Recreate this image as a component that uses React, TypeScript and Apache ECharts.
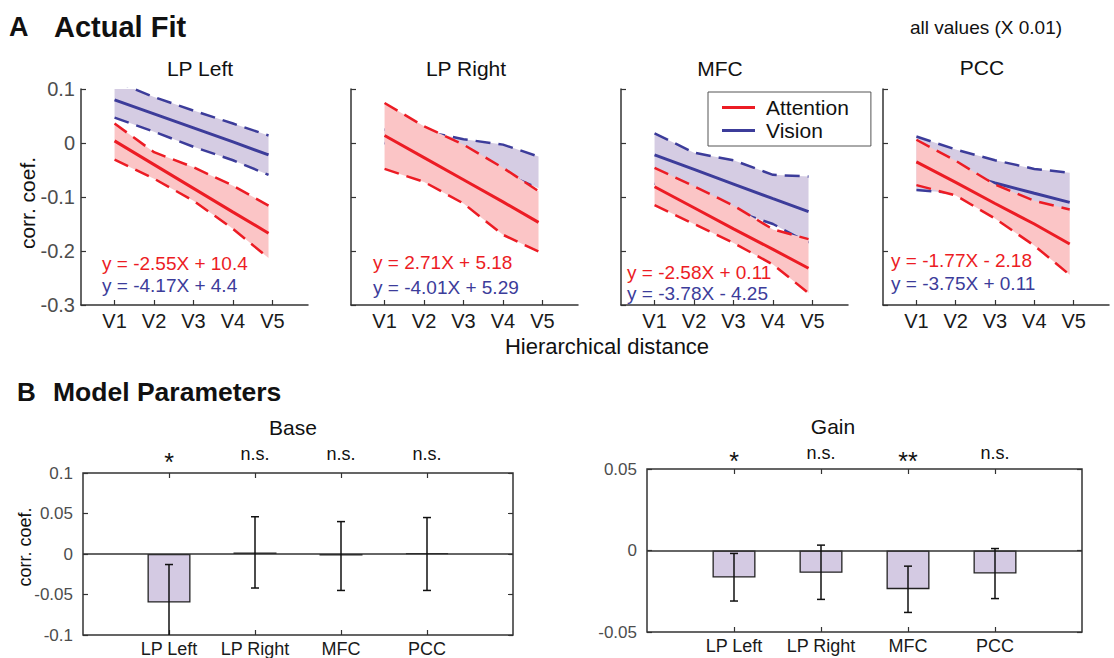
import React, { useEffect, useRef } from "react";
import * as echarts from "echarts";

// ---------- DATA ----------
const regions = ["LP Left", "LP Right", "MFC", "PCC"];
const hierLabels = ["V1", "V2", "V3", "V4", "V5"];
const hierX = [1, 2, 3, 4, 4.9];

// Panel A (corr. coef.), one row per region
const attUpper = [
  [0.036, -0.017, -0.045, -0.079, -0.116],
  [0.074, 0.031, -0.003, -0.046, -0.089],
  [-0.046, -0.08, -0.116, -0.16, -0.178],
  [0.006, -0.033, -0.077, -0.107, -0.123],
];
const attCenter = [
  [0.004, -0.04, -0.084, -0.128, -0.167],
  [0.014, -0.027, -0.068, -0.109, -0.147],
  [-0.081, -0.12, -0.159, -0.197, -0.232],
  [-0.035, -0.073, -0.112, -0.15, -0.187],
];
const attLower = [
  [-0.031, -0.066, -0.107, -0.159, -0.213],
  [-0.048, -0.072, -0.112, -0.17, -0.201],
  [-0.115, -0.15, -0.185, -0.225, -0.278],
  [-0.078, -0.097, -0.14, -0.19, -0.244],
];
const visUpper = [
  [0.115, 0.085, 0.06, 0.036, 0.014],
  [0.025, 0.022, 0.007, -0.003, -0.025],
  [0.018, -0.018, -0.032, -0.059, -0.062],
  [0.012, -0.012, -0.032, -0.048, -0.055],
];
const visCenter: (number[] | null)[] = [
  [0.08, 0.054, 0.028, 0.002, -0.022],
  null,
  [-0.022, -0.049, -0.076, -0.103, -0.127],
  [-0.035, -0.054, -0.074, -0.093, -0.11],
];
const visLower = [
  [0.047, 0.021, -0.007, -0.032, -0.059],
  [0.0, -0.02, -0.035, -0.055, -0.084],
  [-0.075, -0.1, -0.125, -0.15, -0.185],
  [-0.087, -0.093, -0.105, -0.118, -0.13],
];
const eqAtt = ["y = -2.55X + 10.4", "y = 2.71X + 5.18", "y = -2.58X + 0.11", "y = -1.77X - 2.18"];
const eqVis = ["y = -4.17X + 4.4", "y = -4.01X + 5.29", "y = -3.78X - 4.25", "y = -3.75X + 0.11"];

// Panel B
const baseMean = [-0.06, 0.002, -0.002, 0.001];
const baseErrLow = [-0.107, -0.042, -0.045, -0.045];
const baseErrHigh = [-0.013, 0.046, 0.04, 0.045];
const baseSig = ["*", "n.s.", "n.s.", "n.s."];
const gainMean = [-0.0166, -0.0137, -0.0237, -0.0141];
const gainErrLow = [-0.031, -0.03, -0.038, -0.0295];
const gainErrHigh = [-0.0018, 0.0033, -0.0096, 0.0012];
const gainSig = ["*", "n.s.", "**", "n.s."];

// ---------- STYLE ----------
const FONT = "'Liberation Sans', Arial, Helvetica, sans-serif";
const RED = "#ec1c24";
const BLUE = "#3c3c9a";
const RED_FILL = "#fbc5c6";
const BLUE_FILL = "#d5cce3";
const BAR_FILL = "#d4cae3";
const AXIS = "#333";
const TICKLBL = "#4d4d4d";
const DASH = [15, 8];

const gridA = [
  { left: 81, top: 89, width: 227, height: 216 },
  { left: 351, top: 89, width: 227, height: 216 },
  { left: 621, top: 89, width: 227, height: 216 },
  { left: 883, top: 89, width: 226, height: 216 },
];
const gridBase = { left: 83, top: 473, width: 430, height: 162 };
const gridGain = { left: 647, top: 469, width: 435, height: 163 };
const titlePos = [
  [200, 68],
  [466, 68],
  [720, 68],
  [982, 67],
];
const eqPos = [
  [102, 263, 285],
  [373, 262, 287],
  [627, 272, 293],
  [891, 260, 283],
];

const fmt = (v: number) => String(Math.round(v * 1000) / 1000);
const pts = (vals: number[]) => hierX.map((x, k) => [x, vals[k]]);

function bandSeries(i: number, name: string, lower: number[], upper: number[], fill: string, z: number) {
  return {
    type: "custom",
    name,
    xAxisIndex: i,
    yAxisIndex: i,
    silent: true,
    clip: true,
    z,
    data: hierX.map((x, k) => [x, lower[k], upper[k]]),
    encode: { x: 0, y: [1, 2] },
    renderItem: (params: any, api: any) => {
      if (params.dataIndex !== 0) return null;
      const top = hierX.map((x, k) => api.coord([x, upper[k]]));
      const bot = hierX.map((x, k) => api.coord([x, lower[k]])).reverse();
      return {
        type: "polygon",
        shape: { points: top.concat(bot) },
        style: { fill, stroke: "none" },
      };
    },
  };
}

function buildOption() {
  const grid: any[] = [];
  const xAxis: any[] = [];
  const yAxis: any[] = [];
  const series: any[] = [];
  const graphic: any[] = [];

  const lineCommon = { type: "line", symbol: "none", silent: true, clip: true };

  gridA.forEach((g, i) => {
    grid.push({ ...g, containLabel: false });
    xAxis.push({
      gridIndex: i,
      type: "value",
      min: 0.15,
      max: 5.9,
      axisLine: { show: true, onZero: false, lineStyle: { color: AXIS, width: 1.5 } },
      axisTick: { show: true, inside: true, length: 5, customValues: [1, 2, 3, 4, 5], lineStyle: { color: AXIS, width: 1.2 } },
      axisLabel: {
        show: true,
        customValues: [1, 2, 3, 4, 5],
        formatter: (v: number) => hierLabels[Math.round(v) - 1] || "",
        fontSize: 20,
        fontFamily: FONT,
        color: "#1a1a1a",
        margin: 6,
      },
      splitLine: { show: false },
    });
    yAxis.push({
      gridIndex: i,
      type: "value",
      min: -0.3,
      max: 0.1,
      interval: 0.1,
      axisLine: { show: true, onZero: false, lineStyle: { color: AXIS, width: 1.5 } },
      axisTick: { show: true, inside: true, length: 5, lineStyle: { color: AXIS, width: 1.2 } },
      axisLabel: { show: i === 0, formatter: fmt, fontSize: 20, fontFamily: FONT, color: TICKLBL, margin: 6 },
      splitLine: { show: false },
    });

    const ax = { xAxisIndex: i, yAxisIndex: i };
    // Vision band + lines
    series.push(bandSeries(i, "vis-band-" + i, visLower[i], visUpper[i], BLUE_FILL, 2));
    series.push({ ...lineCommon, ...ax, z: 3, name: "vis-up-" + i, data: pts(visUpper[i]), lineStyle: { color: BLUE, width: 2.5, type: DASH }, itemStyle: { color: BLUE } });
    series.push({ ...lineCommon, ...ax, z: 3, name: "vis-lo-" + i, data: pts(visLower[i]), lineStyle: { color: BLUE, width: 2.5, type: DASH }, itemStyle: { color: BLUE } });
    if (visCenter[i]) {
      series.push({ ...lineCommon, ...ax, z: 3, name: "Vision", data: pts(visCenter[i] as number[]), lineStyle: { color: BLUE, width: 3 }, itemStyle: { color: BLUE } });
    }
    // Attention band + lines (drawn on top)
    series.push(bandSeries(i, "att-band-" + i, attLower[i], attUpper[i], RED_FILL, 4));
    series.push({ ...lineCommon, ...ax, z: 5, name: "att-up-" + i, data: pts(attUpper[i]), lineStyle: { color: RED, width: 2.5, type: DASH }, itemStyle: { color: RED } });
    series.push({ ...lineCommon, ...ax, z: 5, name: "att-lo-" + i, data: pts(attLower[i]), lineStyle: { color: RED, width: 2.5, type: DASH }, itemStyle: { color: RED } });
    series.push({ ...lineCommon, ...ax, z: 5, name: "Attention", data: pts(attCenter[i]), lineStyle: { color: RED, width: 3 }, itemStyle: { color: RED } });

    graphic.push({
      type: "text", x: titlePos[i][0], y: titlePos[i][1], z: 100,
      style: { text: regions[i], fontSize: 21, fontFamily: FONT, fill: "#111", textAlign: "center", textVerticalAlign: "middle" },
    });
    graphic.push({
      type: "text", x: eqPos[i][0], y: eqPos[i][1], z: 100,
      style: { text: eqAtt[i], fontSize: 19, fontFamily: FONT, fill: RED, textAlign: "left", textVerticalAlign: "middle" },
    });
    graphic.push({
      type: "text", x: eqPos[i][0], y: eqPos[i][2], z: 100,
      style: { text: eqVis[i], fontSize: 19, fontFamily: FONT, fill: BLUE, textAlign: "left", textVerticalAlign: "middle" },
    });
  });

  // ---------- Panel B ----------
  const bPanels = [
    { g: gridBase, mean: baseMean, lo: baseErrLow, hi: baseErrHigh, sig: baseSig, min: -0.1, max: 0.1, sigMargin: 10 },
    { g: gridGain, mean: gainMean, lo: gainErrLow, hi: gainErrHigh, sig: gainSig, min: -0.05, max: 0.05, sigMargin: 7 },
  ];
  bPanels.forEach((p, j) => {
    const gi = grid.length;
    grid.push({ ...p.g, show: true, borderColor: AXIS, borderWidth: 1.5, backgroundColor: "transparent" });
    const xb = xAxis.length;
    xAxis.push({
      gridIndex: gi, type: "value", min: 0, max: 5, position: "bottom",
      axisLine: { show: false, onZero: false },
      axisTick: { show: true, inside: true, length: 5, customValues: [1, 2, 3, 4], lineStyle: { color: AXIS, width: 1.2 } },
      axisLabel: {
        customValues: [1, 2, 3, 4],
        formatter: (v: number) => regions[Math.round(v) - 1] || "",
        fontSize: 18, fontFamily: FONT, color: "#1a1a1a", margin: 5,
      },
      splitLine: { show: false },
    });
    xAxis.push({
      gridIndex: gi, type: "value", min: 0, max: 5, position: "top",
      axisLine: { show: false, onZero: false },
      axisTick: { show: true, inside: true, length: 5, customValues: [1, 2, 3, 4], lineStyle: { color: AXIS, width: 1.2 } },
      axisLabel: {
        customValues: [1, 2, 3, 4],
        formatter: (v: number) => {
          const s = p.sig[Math.round(v) - 1] || "";
          return s.indexOf("*") === 0 ? "{st|" + s + "}" : s;
        },
        fontSize: 18, fontFamily: FONT, color: "#111", margin: p.sigMargin,
        rich: { st: { fontSize: 25, fontFamily: FONT, color: "#111", lineHeight: 2 } },
      },
      splitLine: { show: false },
    });
    const yb = yAxis.length;
    yAxis.push({
      gridIndex: gi, type: "value", min: p.min, max: p.max, interval: 0.05, position: "left",
      axisLine: { show: false, onZero: false },
      axisTick: { show: true, inside: true, length: 5, lineStyle: { color: AXIS, width: 1.2 } },
      axisLabel: { formatter: fmt, fontSize: 17, fontFamily: FONT, color: TICKLBL, margin: 10 },
      splitLine: { show: false },
    });
    yAxis.push({
      gridIndex: gi, type: "value", min: p.min, max: p.max, interval: 0.05, position: "right",
      axisLine: { show: false, onZero: false },
      axisTick: { show: true, inside: true, length: 5, lineStyle: { color: AXIS, width: 1.2 } },
      axisLabel: { show: false },
      splitLine: { show: false },
    });

    series.push({
      type: "bar", name: j === 0 ? "Base" : "Gain", xAxisIndex: xb, yAxisIndex: yb, silent: true,
      data: p.mean.map((v, k) => [k + 1, v]),
      barWidth: 43,
      itemStyle: { color: BAR_FILL, borderColor: "#222", borderWidth: 1.3 },
      markLine: {
        silent: true, symbol: "none", label: { show: false },
        lineStyle: { color: AXIS, width: 1.5, type: "solid" },
        data: [{ yAxis: 0 }],
      },
    });
    series.push({
      type: "custom", name: (j === 0 ? "Base" : "Gain") + "-err", xAxisIndex: xb, yAxisIndex: yb, silent: true, clip: true, z: 5,
      data: p.mean.map((_, k) => [k + 1, p.lo[k], p.hi[k]]),
      encode: { x: 0, y: [1, 2] },
      renderItem: (_params: any, api: any) => {
        const x = api.value(0);
        const lo = api.coord([x, api.value(1)]);
        const hi = api.coord([x, api.value(2)]);
        const w = 4;
        const style = { stroke: "#111", lineWidth: 1.5 };
        return {
          type: "group",
          children: [
            { type: "line", shape: { x1: lo[0], y1: lo[1], x2: hi[0], y2: hi[1] }, style },
            { type: "line", shape: { x1: lo[0] - w, y1: lo[1], x2: lo[0] + w, y2: lo[1] }, style },
            { type: "line", shape: { x1: hi[0] - w, y1: hi[1], x2: hi[0] + w, y2: hi[1] }, style },
          ],
        };
      },
    });
  });

  // ---------- texts ----------
  const txt = (text: string, x: number, y: number, size: number, opts: any = {}) => ({
    type: "text", x, y, z: 100, rotation: opts.rotation || 0,
    style: {
      text, fontSize: size, fontFamily: FONT, fontWeight: opts.bold ? "bold" : "normal",
      fill: opts.fill || "#111", textAlign: opts.align || "left", textVerticalAlign: "middle",
    },
  });
  graphic.push(txt("A", 9, 27, 27, { bold: true }));
  graphic.push(txt("Actual Fit", 54, 27, 29, { bold: true }));
  graphic.push(txt("all values (X 0.01)", 910, 27, 19));
  graphic.push(txt("corr. coef.", 27, 203, 21, { rotation: Math.PI / 2, align: "center" }));
  graphic.push(txt("Hierarchical distance", 607, 346, 22, { align: "center" }));
  graphic.push(txt("B", 17, 392, 26, { bold: true }));
  graphic.push(txt("Model Parameters", 53, 392, 26.5, { bold: true }));
  graphic.push(txt("Base", 293, 427, 21, { align: "center" }));
  graphic.push(txt("Gain", 833, 426, 21, { align: "center" }));
  graphic.push(txt("corr. coef.", 25, 547, 18, { rotation: Math.PI / 2, align: "center" }));

  return {
    animation: false,
    backgroundColor: "#ffffff",
    textStyle: { fontFamily: FONT },
    legend: {
      show: true,
      data: ["Attention", "Vision"],
      orient: "vertical",
      left: 708,
      top: 92,
      z: 50,
      padding: [5, 22, 5, 14],
      itemGap: 2,
      itemWidth: 33,
      itemHeight: 3,
      icon: "rect",
      selectedMode: false,
      borderColor: "#555",
      borderWidth: 1,
      backgroundColor: "#fff",
      textStyle: { fontSize: 21, fontFamily: FONT, color: "#111", padding: [0, 0, 0, 6] },
    },
    grid,
    xAxis,
    yAxis,
    series,
    graphic,
  };
}

export default function App() {
  const ref = useRef<HTMLDivElement>(null);
  useEffect(() => {
    if (!ref.current) return;
    const chart = echarts.init(ref.current, undefined, { renderer: "svg" });
    chart.setOption(buildOption() as any);
    return () => chart.dispose();
  }, []);
  return (
    <div
      ref={ref}
      style={{ position: "fixed", left: 0, top: 0, width: 1114, height: 658, background: "#fff" }}
    />
  );
}
